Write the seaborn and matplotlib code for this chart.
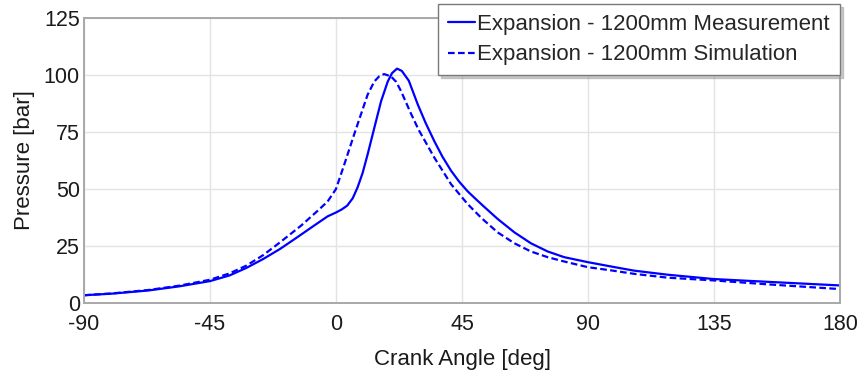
import matplotlib
matplotlib.use("Agg")
import matplotlib.pyplot as plt
import seaborn as sns
import pandas as pd

# Crank angle [deg] and cylinder pressure [bar]
meas_angle = [-90, -80, -67, -56, -45, -38, -32, -26, -20, -14, -8, -3, 0, 2, 4, 6,
              7.7, 9.5, 11.3, 13.7, 16.1, 18.5, 20, 21.8, 23.5, 26, 29.2, 32, 35.1,
              38, 41.1, 44, 47, 50, 53, 57.7, 63.7, 69.6, 75.6, 81.5, 90, 98.3,
              106.4, 118.5, 135, 154, 180]
meas_p = [3.4, 4.1, 5.5, 7.3, 9.6, 12.1, 15.4, 19.3, 23.7, 28.7, 33.8, 38.0, 39.7, 41.0, 42.7, 46.0,
          50.7, 57.0, 65.2, 76.9, 88.5, 97.2, 100.8, 102.8, 101.8, 97.5, 87.1, 79.0, 71.0,
          64.2, 58.0, 53.2, 49.0, 45.5, 42.1, 36.9, 31.0, 26.2, 22.6, 20.1, 17.9, 16.0,
          14.2, 12.4, 10.5, 9.3, 7.7]

sim_angle = [-90, -80, -67, -56, -45, -38, -32, -26, -20, -12.5, -6.5, -3, 0, 3, 6.5,
             8.9, 11.3, 13.7, 15.5, 17.2, 19.6, 21.5, 23.2, 26.8, 29.5, 35.1, 41.1, 47,
             52, 57.7, 63.7, 69.6, 75.6, 81.5, 90, 98.3, 106.4, 118.5, 135, 154, 180]
sim_p = [3.4, 4.2, 5.7, 7.6, 10.2, 13.0, 16.4, 21.0, 26.6, 33.9, 40.5, 44.5, 50.0, 60.9, 74.0,
         82.7, 91.4, 97.2, 99.5, 100.4, 99.4, 97.0, 93.0, 83.0, 76.0, 63.8, 52.1, 43.4,
         37.2, 31.0, 26.2, 22.6, 20.1, 18.2, 15.7, 14.3, 12.8, 11.1, 9.9, 8.2, 6.1]

series_names = ["Expansion - 1200mm Measurement", "Expansion - 1200mm Simulation"]
x_ticks = [-90, -45, 0, 45, 90, 135, 180]
y_ticks = [0, 25, 50, 75, 100, 125]

df = pd.concat([
    pd.DataFrame({"angle": meas_angle, "pressure": meas_p, "series": series_names[0]}),
    pd.DataFrame({"angle": sim_angle, "pressure": sim_p, "series": series_names[1]}),
])

sns.set_style("whitegrid")
plt.rcParams["font.family"] = ["Liberation Sans", "DejaVu Sans"]
plt.rcParams["axes.unicode_minus"] = False

fig = plt.figure(figsize=(8.61, 3.85), dpi=100)
ax = fig.add_axes([84 / 861, 82 / 385, 756 / 861, 285 / 385])

sns.lineplot(data=df, x="angle", y="pressure", hue="series", style="series",
             palette=["#0000ff", "#0000ff"], dashes=[(None, None), (3, 1.5)],
             linewidth=1.6, sort=False, ax=ax, legend=True)

ax.set_xlim(-90, 180)
ax.set_ylim(0, 125)
ax.set_xticks(x_ticks)
ax.set_yticks(y_ticks)
ax.grid(True, color="#e3e3e3", linewidth=1.0)
for s in ax.spines.values():
    s.set_color("#a8a8a8")
    s.set_linewidth(1.4)
ax.tick_params(axis="both", length=0, labelsize=15.5, colors="#1a1a1a")
ax.tick_params(axis="x", pad=8)
ax.tick_params(axis="y", pad=3)
ax.set_xlabel("Crank Angle [deg]", fontsize=16, color="#1a1a1a", labelpad=10)
ax.set_ylabel("Pressure [bar]", fontsize=16, color="#1a1a1a", labelpad=6)

handles, labels = ax.get_legend_handles_labels()
leg = ax.legend(handles, labels, loc="upper right",
                bbox_to_anchor=(840 / 861, 1 - 4 / 385), bbox_transform=fig.transFigure,
                borderaxespad=0, fontsize=16, frameon=True, fancybox=False,
                handlelength=1.2, handletextpad=0.1, labelspacing=0.42,
                borderpad=0.45, edgecolor="#7a7a7a",
                shadow={"ox": 2, "oy": -2, "color": "#999999", "alpha": 0.5})
leg.get_frame().set_linewidth(1.0)
leg.get_frame().set_alpha(1)

fig.savefig("out.png", dpi=100)
